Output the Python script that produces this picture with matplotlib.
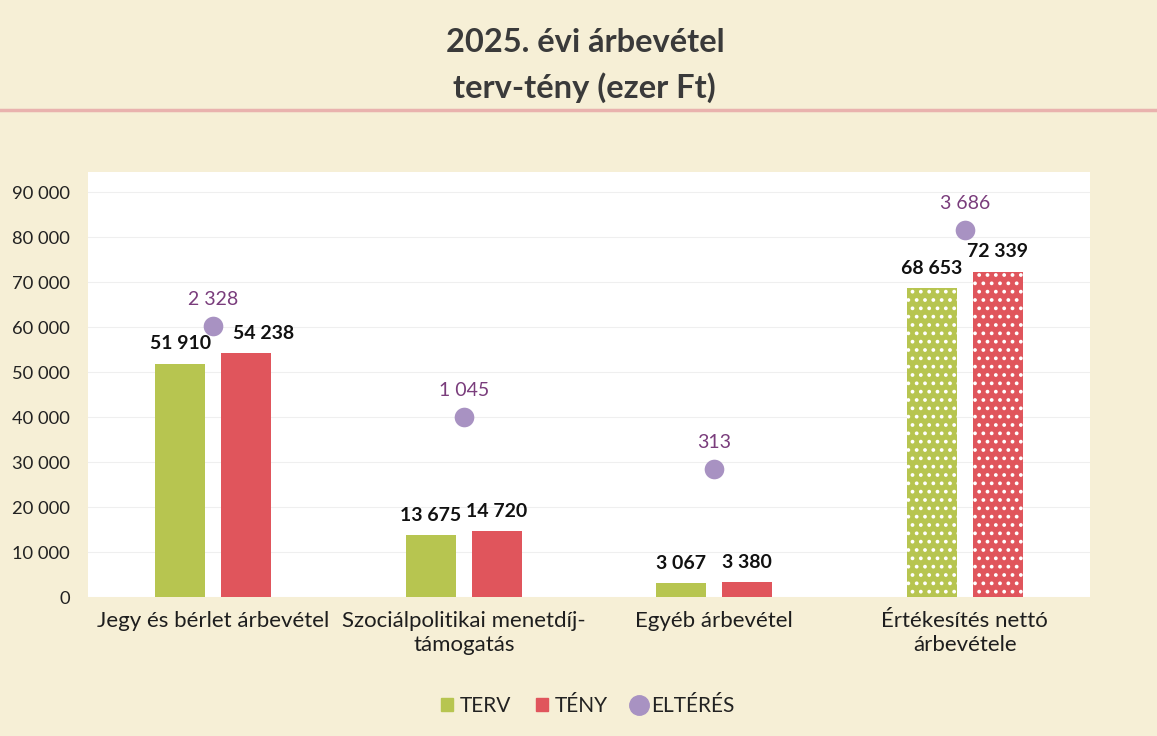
import matplotlib
matplotlib.use("Agg")
import matplotlib.pyplot as plt
import numpy as np
from matplotlib.patches import Rectangle
from matplotlib.lines import Line2D

plt.rcParams['font.family'] = ['Lato', 'DejaVu Sans']

categories = ["Jegy és bérlet árbevétel", "Szociálpolitikai menetdíj-\ntámogatás",
              "Egyéb árbevétel", "Értékesítés nettó\nárbevétele"]
terv = [51910, 13675, 3067, 68653]
teny = [54238, 14720, 3380, 72339]
elteres = [2328, 1045, 313, 3686]
yticks = [0, 10000, 20000, 30000, 40000, 50000, 60000, 70000, 80000, 90000]

GREEN = '#b7c550'
RED = '#e0555c'
PURPLE = '#a892c2'
PURPLE_TXT = '#7a3d7c'
BG = '#f6efd6'

def fmt(v):
    return f"{v:,}".replace(",", " ")

fig = plt.figure(figsize=(11.57, 7.36), dpi=100, facecolor=BG)
ax = fig.add_axes([88/1157, 1-597/736, (1090-88)/1157, (597-172)/736])
ax.set_facecolor('white')
ax.set_xlim(-0.5, 3.5)
ax.set_ylim(0, 94500)
ax.set_yticks(yticks)
ax.set_yticklabels([fmt(v) for v in yticks], fontsize=13.2, color='#222222')
ax.grid(axis='y', color='#efefef', linewidth=0.8)
ax.set_axisbelow(True)
for s in ax.spines.values():
    s.set_visible(False)
ax.tick_params(axis='y', length=0, pad=13)
ax.set_xticks(range(len(categories)))
ax.set_xticklabels(categories, fontsize=16, color='#1e1e1e', linespacing=1.25)
ax.tick_params(axis='x', length=0, pad=10)

x = np.arange(len(categories))
w = 0.2
off = 0.131
label_shift = [(0, 0.07), (0, 0), (0, 0), (0, 0)]
plt.rcParams['hatch.linewidth'] = 1.5
for i in range(len(categories)):
    hatch = '..' if i == 3 else None
    ax.bar(x[i]-off, terv[i], width=w, color=GREEN, edgecolor='white' if hatch else GREEN,
           linewidth=0, hatch=hatch)
    ax.bar(x[i]+off, teny[i], width=w, color=RED, edgecolor='white' if hatch else RED,
           linewidth=0, hatch=hatch)
    ax.text(x[i]-off+label_shift[i][0], terv[i]+2500, fmt(terv[i]), ha='center', va='bottom',
            fontsize=14, fontweight='bold', color='#111111')
    ax.text(x[i]+off+label_shift[i][1], teny[i]+2500, fmt(teny[i]), ha='center', va='bottom',
            fontsize=14, fontweight='bold', color='#111111')

ax2 = ax.twinx()
ax2.set_ylim(-1500, 4500)
ax2.set_yticks([])
for s in ax2.spines.values():
    s.set_visible(False)
ax2.scatter(x, elteres, s=200, color=PURPLE, zorder=5, linewidths=0)
for i in range(len(categories)):
    ax2.annotate(fmt(elteres[i]), (x[i], elteres[i]), xytext=(0, 13), textcoords='offset points',
                 ha='center', va='bottom', fontsize=14, color=PURPLE_TXT)

fig.text(0.5055, 1-42/736, "2025. évi árbevétel", ha='center', va='center',
         fontsize=23.5, fontweight='bold', color='#3a3a3a')
fig.text(0.5055, 1-88/736, "terv-tény (ezer Ft)", ha='center', va='center',
         fontsize=23.5, fontweight='bold', color='#3a3a3a')
fig.add_artist(Line2D([0, 1], [1-110/736, 1-110/736], color='#e9b2ae', linewidth=2.5,
                      transform=fig.transFigure))

handles = [Rectangle((0, 0), 1, 1, color=GREEN), Rectangle((0, 0), 1, 1, color=RED),
           Line2D([], [], marker='o', linestyle='', markersize=14, color=PURPLE)]
fig.legend(handles, ["TERV", "TÉNY", "ELTÉRÉS"], loc='center', bbox_to_anchor=(0.508, 1-706/736),
           ncol=3, frameon=False, fontsize=15, handlelength=0.6, handleheight=0.6,
           columnspacing=1.2, handletextpad=0.3, labelcolor='#222222')

fig.savefig("out.png", dpi=100, facecolor=BG)
